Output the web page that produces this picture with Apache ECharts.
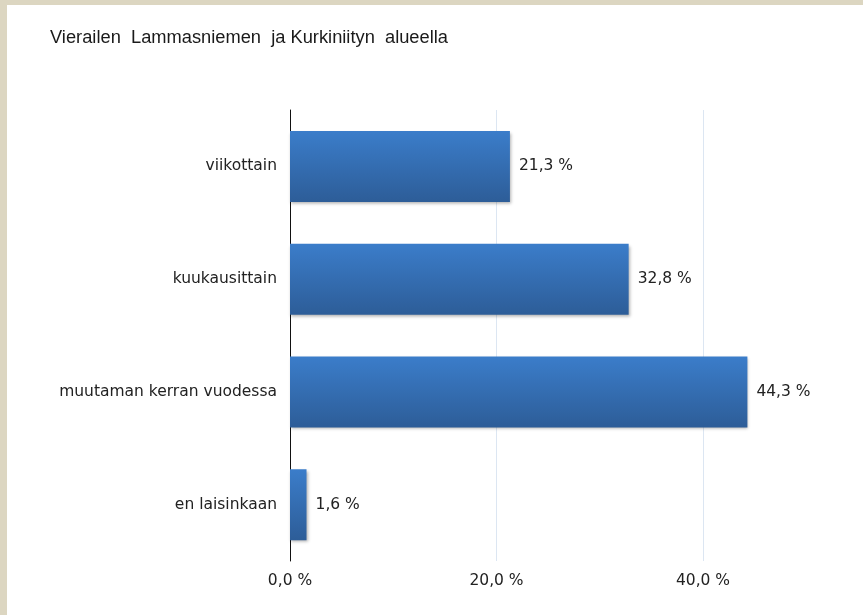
<!DOCTYPE html>
<html>
<head>
<meta charset="utf-8">
<script src="https://cdn.jsdelivr.net/npm/echarts@6/dist/echarts.min.js"></script>
<style>
    html, body { margin: 0; padding: 0; background: #dcd6c1; }
    #chart { position: absolute; left: 7px; top: 5px; width: 856px; height: 610px; background: #fff; }
</style>
</head>
<body>
<div id="chart"></div>
<script>
const titleText = 'Vierailen  Lammasniemen  ja Kurkiniityn  alueella';
const categories = ['viikottain', 'kuukausittain', 'muutaman kerran vuodessa', 'en laisinkaan'];
const shares = [21.3, 32.8, 44.3, 1.6];

const fmt = v => v.toFixed(1).replace('.', ',') + ' %';
const labelFont = 'DejaVu Sans';

const chart = echarts.init(document.getElementById('chart'), null, { renderer: 'canvas' });

const option = {
    animation: false,
    title: {
        text: titleText,
        left: 43,
        top: 24,
        padding: 0,
        textStyle: {
            fontFamily: 'Liberation Sans',
            fontSize: 18.3,
            fontWeight: 'normal',
            color: '#1a1a1a'
        }
    },
    grid: {
        left: 283,
        top: 105,
        height: 451,
        width: 516.25
    },
    xAxis: {
        type: 'value',
        min: 0,
        max: 50,
        interval: 20,
        axisLine: { show: false },
        axisTick: { show: false },
        splitLine: {
            showMaxLine: false,
            lineStyle: { color: '#dce6f2', width: 1 }
        },
        axisLabel: {
            margin: 12,
            showMaxLabel: false,
            fontFamily: labelFont,
            fontSize: 15.5,
            color: '#222',
            formatter: v => (v === 50 ? '' : fmt(v))
        }
    },
    yAxis: {
        type: 'category',
        inverse: true,
        data: categories,
        axisLine: { show: true, lineStyle: { color: '#111', width: 1 } },
        axisTick: { show: false },
        axisLabel: {
            margin: 13,
            fontFamily: labelFont,
            fontSize: 15.5,
            color: '#222'
        }
    },
    series: [
        {
            type: 'bar',
            data: shares,
            barWidth: 71,
            itemStyle: {
                color: new echarts.graphic.LinearGradient(0, 0, 0, 1, [
                    { offset: 0, color: '#3b7dca' },
                    { offset: 1, color: '#2d5d98' }
                ]),
                shadowColor: 'rgba(0, 0, 0, 0.3)',
                shadowBlur: 3,
                shadowOffsetX: 1,
                shadowOffsetY: 2
            },
            label: {
                show: true,
                position: 'right',
                distance: 9,
                fontFamily: labelFont,
                fontSize: 15.5,
                color: '#222',
                formatter: p => fmt(p.value)
            }
        }
    ]
};

chart.setOption(option);
</script>
</body>
</html>
